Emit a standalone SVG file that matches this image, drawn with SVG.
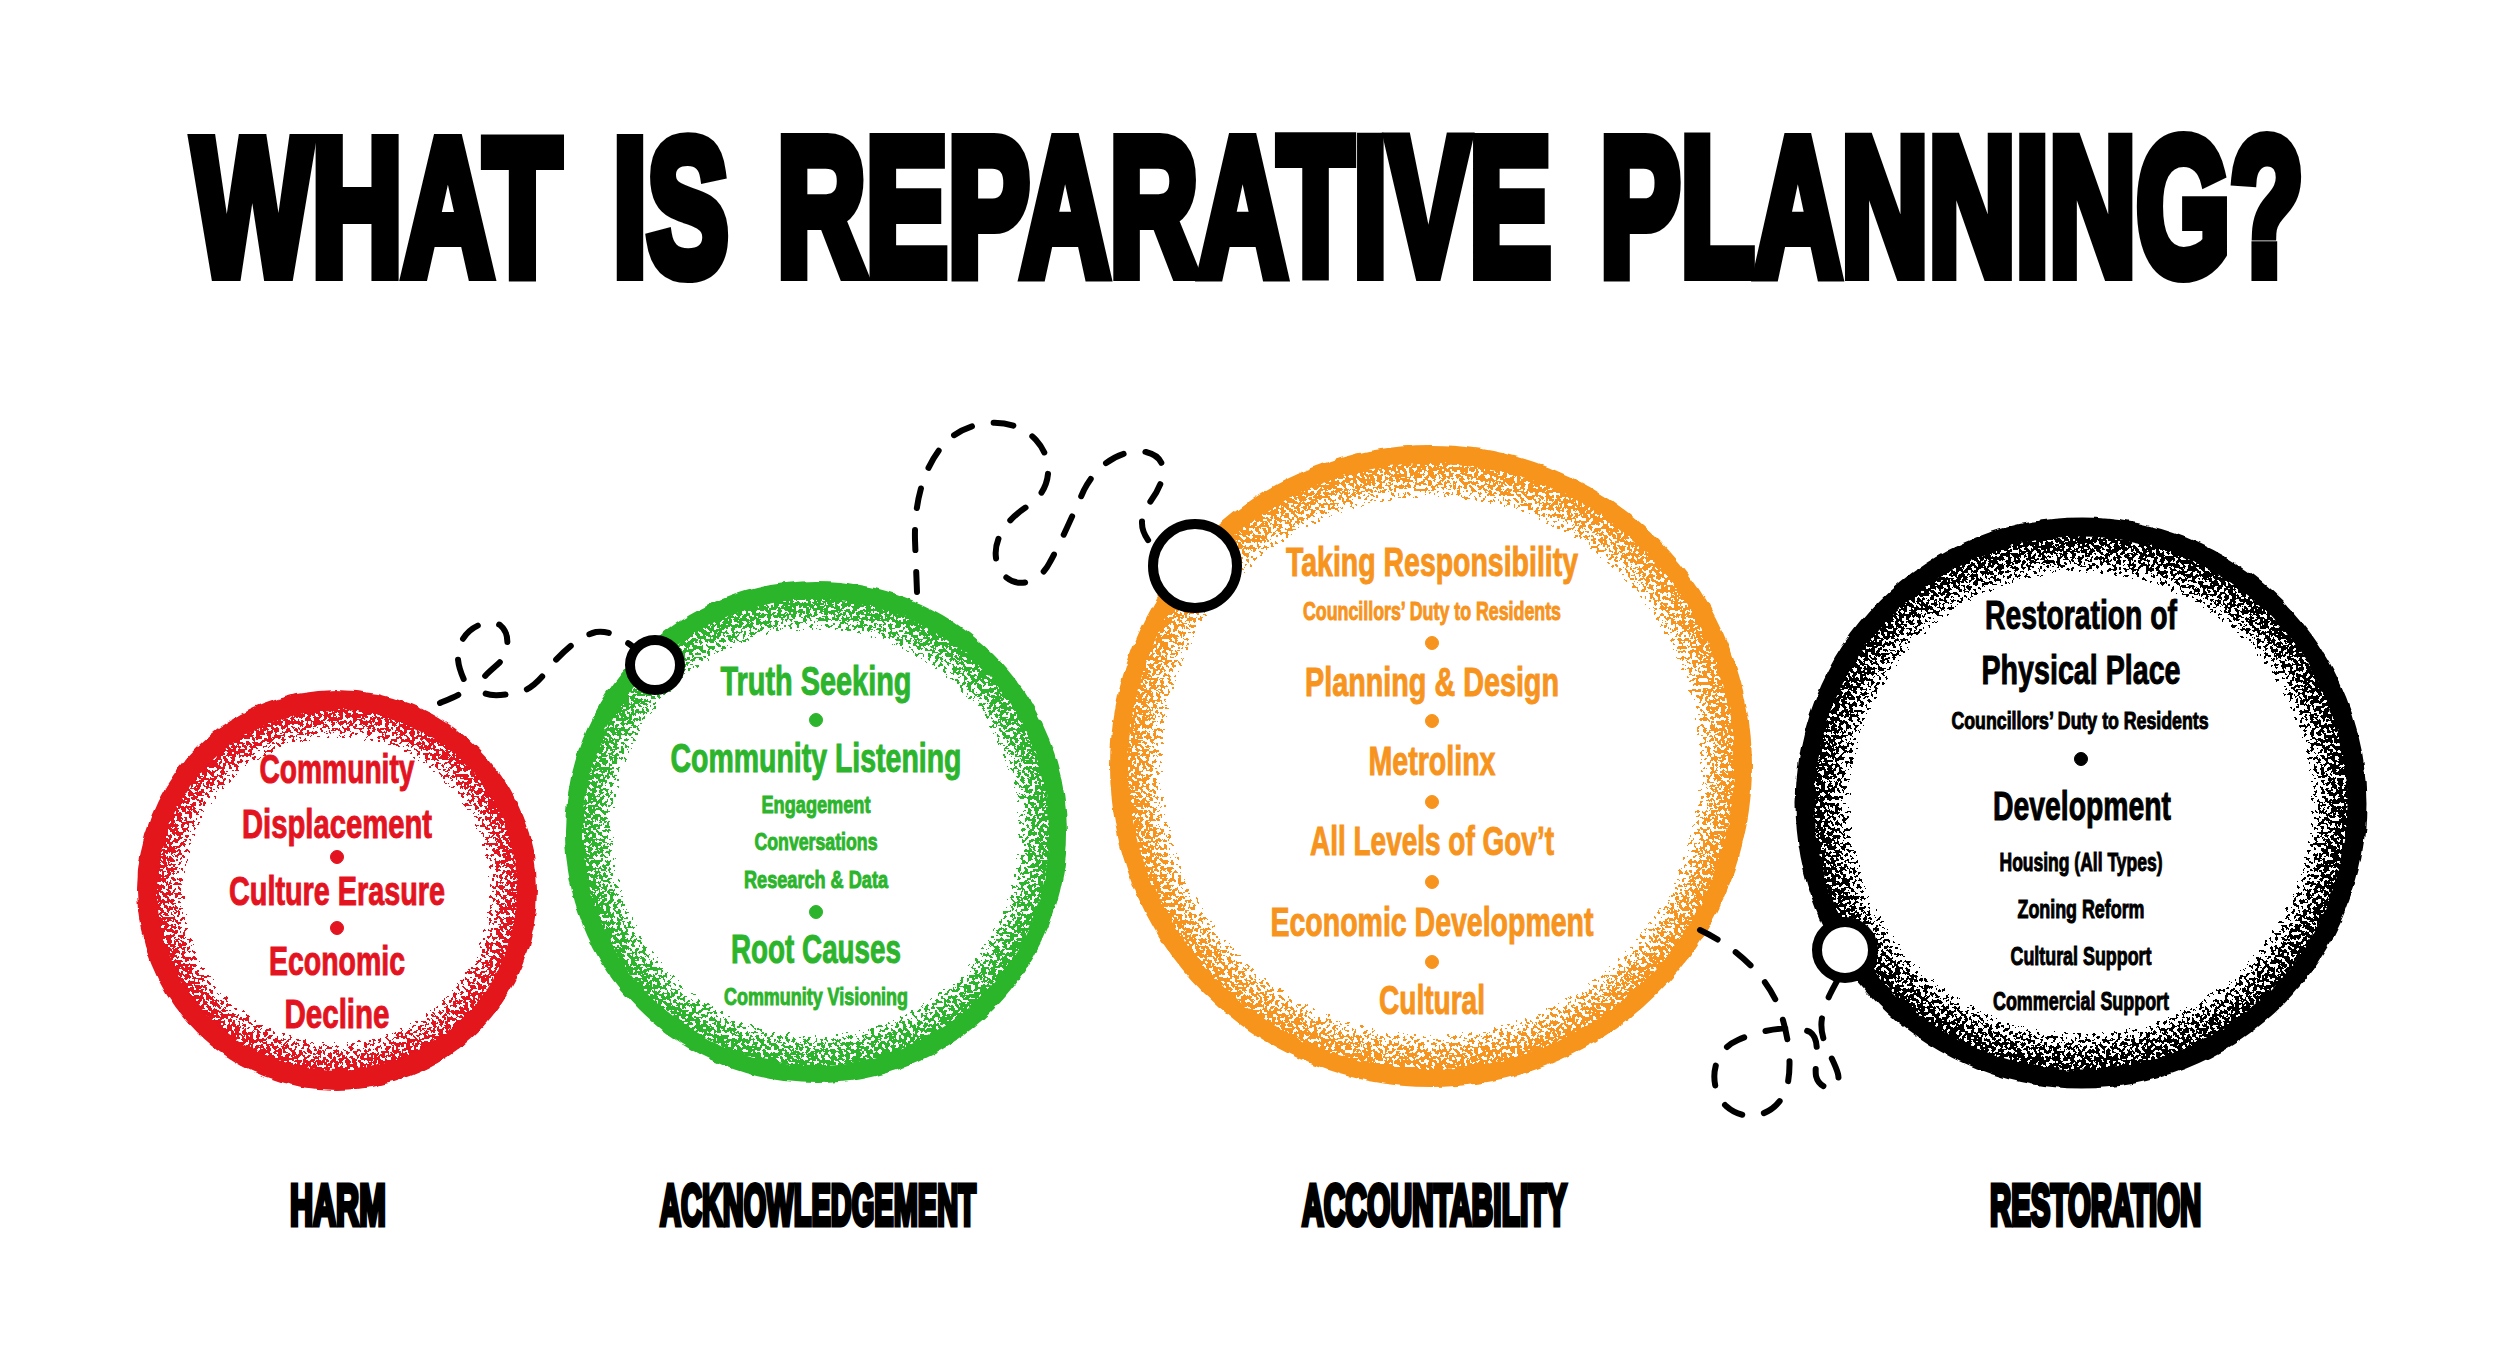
<svg xmlns="http://www.w3.org/2000/svg" width="2500" height="1357" viewBox="0 0 2500 1357">
<style>
.t{font-family:"Liberation Sans",Arial,sans-serif;font-weight:700}
.title{font-size:194px;fill:#000;stroke:#000;stroke-width:14;stroke-linejoin:miter}
.lab{font-size:57px;fill:#000;stroke:#000;stroke-width:5}
.b{font-size:40px}
.s{font-size:24px}
.red{fill:#e3141f;stroke:#e3141f;stroke-width:1}
.grn{fill:#2cb52c;stroke:#2cb52c;stroke-width:1}
.org{fill:#f7941e;stroke:#f7941e;stroke-width:1}
.blk{fill:#000;stroke:#000;stroke-width:1}
.dash{fill:none;stroke:#000;stroke-width:6;stroke-dasharray:20 22;stroke-linecap:round;stroke-linejoin:round}
.pin{fill:#fff;stroke:#000}
</style>
<defs>
<filter id="grain" color-interpolation-filters="sRGB">
<feTurbulence type="fractalNoise" baseFrequency="0.28" numOctaves="2" seed="7" result="noise"/>
<feColorMatrix in="noise" type="matrix" values="0 0 0 0 0 0 0 0 0 0 0 0 0 0 0 3 0 0 0 -1" result="mask"/>
<feComposite in="SourceGraphic" in2="mask" operator="in" result="m"/>
<feComponentTransfer in="m"><feFuncA type="discrete" tableValues="0 1 1 1"/></feComponentTransfer>
</filter>
<filter id="rough">
<feTurbulence type="fractalNoise" baseFrequency="0.08" numOctaves="2" seed="3" result="n"/>
<feDisplacementMap in="SourceGraphic" in2="n" scale="5" xChannelSelector="R" yChannelSelector="G"/>
</filter>
<radialGradient id="gRed"><stop offset="0.76" stop-color="#e3141f" stop-opacity="0"/><stop offset="0.93" stop-color="#e3141f" stop-opacity="0.6"/><stop offset="1" stop-color="#e3141f" stop-opacity="1"/></radialGradient>
<radialGradient id="gGrn"><stop offset="0.81" stop-color="#2cb52c" stop-opacity="0"/><stop offset="0.94" stop-color="#2cb52c" stop-opacity="0.6"/><stop offset="1" stop-color="#2cb52c" stop-opacity="1"/></radialGradient>
<radialGradient id="gOrg"><stop offset="0.83" stop-color="#f7941e" stop-opacity="0"/><stop offset="0.95" stop-color="#f7941e" stop-opacity="0.6"/><stop offset="1" stop-color="#f7941e" stop-opacity="1"/></radialGradient>
<radialGradient id="gBlk"><stop offset="0.80" stop-color="#000" stop-opacity="0"/><stop offset="0.94" stop-color="#000" stop-opacity="0.6"/><stop offset="1" stop-color="#000" stop-opacity="1"/></radialGradient>
</defs>
<rect width="2500" height="1357" fill="#fff"/>

<g id="title" class="t title">
<text transform="translate(193,274) scale(0.648,1)">WHAT</text>
<text transform="translate(613,274) scale(0.630,1)">IS</text>
<text transform="translate(777,274) scale(0.634,1)">REPARATIVE</text>
<text transform="translate(1600,274) scale(0.622,1)">PLANNING?</text>
</g>

<g id="node-harm">
<circle cx="337" cy="890" r="183" fill="url(#gRed)" filter="url(#grain)"/>
<circle cx="337" cy="890" r="190" fill="none" stroke="#e3141f" stroke-width="20" filter="url(#rough)"/>
<g class="t red" text-anchor="middle">
<text class="b" x="337" y="783" textLength="155" lengthAdjust="spacingAndGlyphs">Community</text>
<text class="b" x="337" y="838" textLength="190" lengthAdjust="spacingAndGlyphs">Displacement</text>
<circle cx="337" cy="857" r="6.5"/>
<text class="b" x="337" y="905" textLength="216" lengthAdjust="spacingAndGlyphs">Culture Erasure</text>
<circle cx="337" cy="928" r="6.5"/>
<text class="b" x="337" y="975" textLength="136" lengthAdjust="spacingAndGlyphs">Economic</text>
<text class="b" x="337" y="1028" textLength="105" lengthAdjust="spacingAndGlyphs">Decline</text>
</g>
<text class="t lab" transform="translate(290,1225) scale(0.560,1)">HARM</text>
</g>

<g id="node-acknowledgement">
<circle cx="816" cy="832" r="234" fill="url(#gGrn)" filter="url(#grain)"/>
<circle cx="816" cy="832" r="242" fill="none" stroke="#2cb52c" stroke-width="18" filter="url(#rough)"/>
<g class="t grn" text-anchor="middle">
<text class="b" x="816" y="695" textLength="191" lengthAdjust="spacingAndGlyphs">Truth Seeking</text>
<circle cx="816" cy="720" r="6.5"/>
<text class="b" x="816" y="772" textLength="291" lengthAdjust="spacingAndGlyphs">Community Listening</text>
<text class="s" x="816" y="813" textLength="109" lengthAdjust="spacingAndGlyphs">Engagement</text>
<text class="s" x="816" y="850" textLength="123" lengthAdjust="spacingAndGlyphs">Conversations</text>
<text class="s" x="816" y="888" textLength="144" lengthAdjust="spacingAndGlyphs">Research &amp; Data</text>
<circle cx="816" cy="912" r="6.5"/>
<text class="b" x="816" y="963" textLength="170" lengthAdjust="spacingAndGlyphs">Root Causes</text>
<text class="s" x="816" y="1005" textLength="184" lengthAdjust="spacingAndGlyphs">Community Visioning</text>
</g>
<text class="t lab" transform="translate(660,1225) scale(0.509,1)">ACKNOWLEDGEMENT</text>
</g>

<g id="node-accountability">
<circle cx="1431" cy="766" r="305" fill="url(#gOrg)" filter="url(#grain)"/>
<circle cx="1431" cy="766" r="312" fill="none" stroke="#f7941e" stroke-width="18" filter="url(#rough)"/>
<g class="t org" text-anchor="middle">
<text style="font-size:41px" x="1432" y="576" textLength="292" lengthAdjust="spacingAndGlyphs">Taking Responsibility</text>
<text style="font-size:26px" x="1432" y="620" textLength="258" lengthAdjust="spacingAndGlyphs">Councillors’ Duty to Residents</text>
<circle cx="1432" cy="643" r="6.5"/>
<text style="font-size:41px" x="1432" y="696" textLength="254" lengthAdjust="spacingAndGlyphs">Planning &amp; Design</text>
<circle cx="1432" cy="721" r="6.5"/>
<text style="font-size:41px" x="1432" y="775" textLength="127" lengthAdjust="spacingAndGlyphs">Metrolinx</text>
<circle cx="1432" cy="802" r="6.5"/>
<text style="font-size:41px" x="1432" y="855" textLength="244" lengthAdjust="spacingAndGlyphs">All Levels of Gov’t</text>
<circle cx="1432" cy="882" r="6.5"/>
<text style="font-size:41px" x="1432" y="936" textLength="323" lengthAdjust="spacingAndGlyphs">Economic Development</text>
<circle cx="1432" cy="962" r="6.5"/>
<text style="font-size:41px" x="1432" y="1014" textLength="106" lengthAdjust="spacingAndGlyphs">Cultural</text>
</g>
<text class="t lab" transform="translate(1302,1225) scale(0.527,1)">ACCOUNTABILITY</text>
</g>

<g id="node-restoration">
<circle cx="2081" cy="803" r="268" fill="url(#gBlk)" filter="url(#grain)"/>
<circle cx="2081" cy="803" r="276" fill="none" stroke="#000" stroke-width="19" filter="url(#rough)"/>
<g class="t blk" text-anchor="middle">
<text class="b" x="2081" y="629" textLength="192" lengthAdjust="spacingAndGlyphs">Restoration of</text>
<text class="b" x="2081" y="684" textLength="199" lengthAdjust="spacingAndGlyphs">Physical Place</text>
<text style="font-size:23px" x="2080" y="729" textLength="257" lengthAdjust="spacingAndGlyphs">Councillors’ Duty to Residents</text>
<circle cx="2081" cy="759" r="6.5"/>
<text class="b" x="2082" y="820" textLength="178" lengthAdjust="spacingAndGlyphs">Development</text>
<text style="font-size:25px" x="2081" y="871" textLength="163" lengthAdjust="spacingAndGlyphs">Housing (All Types)</text>
<text style="font-size:25px" x="2081" y="918" textLength="127" lengthAdjust="spacingAndGlyphs">Zoning Reform</text>
<text style="font-size:25px" x="2081" y="965" textLength="141" lengthAdjust="spacingAndGlyphs">Cultural Support</text>
<text style="font-size:25px" x="2081" y="1010" textLength="176" lengthAdjust="spacingAndGlyphs">Commercial Support</text>
</g>
<text class="t lab" transform="translate(1990,1225) scale(0.516,1)">RESTORATION</text>
</g>

<g id="connectors">
<path class="dash" d="M440,703 C452,698 462,694 468,688 C462,676 454,660 460,645 C466,628 486,618 500,625 C512,635 508,655 498,664 C488,673 476,682 481,690 C486,698 506,695 520,692 C535,688 545,673 553,663 C565,650 580,636 596,632 C608,630 620,637 632,646"/>
<path class="dash" d="M917,592 L915,540 C914,500 925,462 948,440 C970,420 1012,414 1036,440 C1056,462 1050,492 1028,506 C1002,522 988,548 1000,570 C1012,590 1038,586 1050,562 C1062,540 1074,512 1084,490 C1096,466 1120,448 1146,452 C1172,458 1164,484 1150,502 C1138,518 1138,535 1160,552"/>
<path class="dash" d="M1700,930 C1738,948 1768,978 1779,1008 C1789,1035 1793,1068 1786,1090 C1776,1116 1746,1124 1726,1106 C1708,1088 1710,1052 1738,1040 C1760,1030 1792,1024 1810,1032 C1822,1040 1814,1064 1816,1076 C1820,1092 1842,1092 1838,1074 C1834,1058 1818,1040 1822,1018 C1826,998 1834,988 1840,975"/>
<circle class="pin" cx="655" cy="665" r="25" stroke-width="10"/>
<circle class="pin" cx="1195" cy="566" r="42" stroke-width="10"/>
<circle class="pin" cx="1845" cy="950" r="28" stroke-width="10"/>
</g>
</svg>
